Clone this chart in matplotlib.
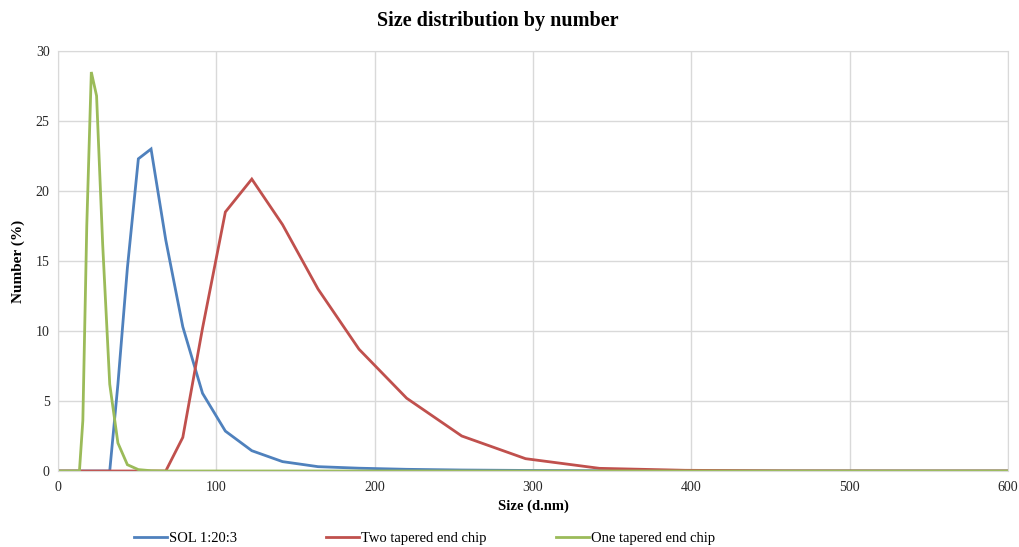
import matplotlib
matplotlib.use("Agg")
import matplotlib.pyplot as plt

plt.rcParams['font.family'] = ['Liberation Serif', 'DejaVu Serif']

# size bins (d.nm)
sizes = [0.4, 0.4632, 0.5365, 0.6213, 0.7195, 0.8332, 0.9649, 1.117, 1.294, 1.499,
         1.736, 2.010, 2.328, 2.696, 3.122, 3.615, 4.187, 4.849, 5.615, 6.503,
         7.531, 8.721, 10.10, 11.70, 13.54, 15.69, 18.17, 21.04, 24.36, 28.21,
         32.67, 37.84, 43.82, 50.75, 58.77, 68.06, 78.82, 91.28, 105.7, 122.4,
         141.8, 164.2, 190.1, 220.2, 255.0, 295.3, 342.0, 396.1, 458.7, 531.2,
         615.1, 712.4]

# number (%) per bin, bins before 13.54 are all zero
lead = [0] * 24
sol = lead + [0, 0, 0, 0, 0, 0,
              0, 6.2, 14.5, 22.3, 23.0, 16.5, 10.3, 5.55, 2.85, 1.45,
              0.67, 0.31, 0.2, 0.12, 0.07, 0.04, 0.02, 0.01, 0, 0,
              0, 0]
two_tap = lead + [0, 0, 0, 0, 0, 0,
                  0, 0, 0, 0, 0, 0, 2.4, 10.2, 18.5, 20.85,
                  17.6, 13.0, 8.7, 5.2, 2.5, 0.88, 0.19, 0.05, 0.01, 0,
                  0, 0]
one_tap = lead + [0, 3.6, 17.5, 28.5, 26.8, 16.2,
                  6.2, 2.0, 0.45, 0.1, 0.02, 0, 0, 0, 0, 0,
                  0, 0, 0, 0, 0, 0, 0, 0, 0, 0,
                  0, 0]

labels = ["SOL 1:20:3", "Two tapered end chip", "One tapered end chip"]
colors = ["#4F81BD", "#C0504D", "#9BBB59"]

fig = plt.figure(figsize=(10.2, 5.47), dpi=100)
ax = fig.add_axes([58/1020, 1-471/547, 950/1020, 420/547])

lines = []
for ys, lab, c in zip([sol, two_tap, one_tap], labels, colors):
    l, = ax.plot(sizes, ys, color=c, lw=2.0, label=lab, solid_joinstyle='miter')
    lines.append(l)

ax.set_xlim(0, 600)
ax.set_ylim(0, 30)
ax.set_xticks(range(0, 601, 100))
ax.set_yticks(range(0, 31, 5))
ax.grid(True, color="#d9d9d9", lw=1.0)
ax.set_axisbelow(True)
for s in ax.spines.values():
    s.set_color("#d9d9d9")
ax.tick_params(length=0, labelsize=10, pad=6, colors="#262626")
ax.tick_params(axis='x', pad=7)

ax.set_xlabel("Size (d.nm)", fontsize=10.5, fontweight='bold', labelpad=4)
ax.set_ylabel("Number (%)", fontsize=11, fontweight='bold', labelpad=8)
fig.text(0.488, 1-21/547, "Size distribution by number", ha='center', va='center',
         fontsize=14.5, fontweight='bold')

# legend entries placed one by one along the bottom
legend_x = [128, 320, 550]
for l, lx in zip(lines, legend_x):
    fig.legend(handles=[l], loc='center left', bbox_to_anchor=(lx/1020, 1-538/547),
               frameon=False, fontsize=10.5, handlelength=2.3, handletextpad=0.1,
               borderaxespad=0)

fig.savefig("out.png", dpi=100)
